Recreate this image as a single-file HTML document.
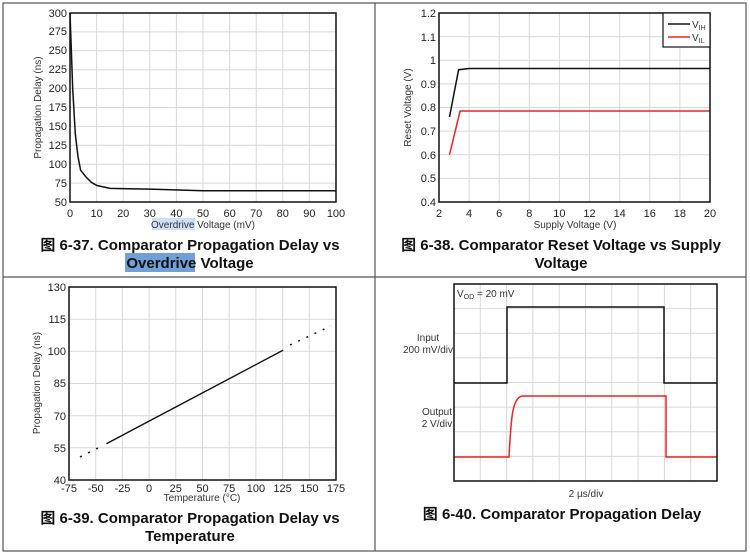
<!DOCTYPE html>
<html><head><meta charset="utf-8"><style>
body{margin:0;background:#fff;}
svg{display:block;font-family:"Liberation Sans","Noto Sans CJK SC",sans-serif;}
.g line{stroke:#d8d8d8;stroke-width:1;}
.t{font-size:11px;fill:#222;}
.a{font-size:10px;fill:#333;}
.c{font-size:15px;font-weight:bold;fill:#111;}
</style></head><body>
<svg width="750" height="555" viewBox="0 0 750 555">
<rect x="3" y="3" width="743" height="548" fill="#fff" stroke="#555" stroke-width="1.2"/>
<line x1="375" y1="3" x2="375" y2="551" stroke="#555" stroke-width="1.2"/>
<line x1="3" y1="277" x2="746" y2="277" stroke="#555" stroke-width="1.2"/>

<!-- Chart 1 -->
<g class="g">
<line x1="96.6" y1="13" x2="96.6" y2="202"/><line x1="123.2" y1="13" x2="123.2" y2="202"/><line x1="149.8" y1="13" x2="149.8" y2="202"/><line x1="176.4" y1="13" x2="176.4" y2="202"/><line x1="203" y1="13" x2="203" y2="202"/><line x1="229.6" y1="13" x2="229.6" y2="202"/><line x1="256.2" y1="13" x2="256.2" y2="202"/><line x1="282.8" y1="13" x2="282.8" y2="202"/><line x1="309.4" y1="13" x2="309.4" y2="202"/>
<line x1="70" y1="183.1" x2="336" y2="183.1"/><line x1="70" y1="164.2" x2="336" y2="164.2"/><line x1="70" y1="145.3" x2="336" y2="145.3"/><line x1="70" y1="126.4" x2="336" y2="126.4"/><line x1="70" y1="107.5" x2="336" y2="107.5"/><line x1="70" y1="88.6" x2="336" y2="88.6"/><line x1="70" y1="69.7" x2="336" y2="69.7"/><line x1="70" y1="50.8" x2="336" y2="50.8"/><line x1="70" y1="31.9" x2="336" y2="31.9"/>
</g>
<polyline fill="none" stroke="#111" stroke-width="1.5" points="70,13 72.7,88.6 75.3,134 78,156.6 80.6,170.2 86,177 91.3,182.3 96.6,185.4 109.9,188.4 149.8,189.1 203,190.7 336,190.7"/>
<rect x="70" y="13" width="266" height="189" fill="none" stroke="#111" stroke-width="1.5"/>
<g class="t" text-anchor="end">
<text x="67" y="206">50</text><text x="67" y="187">75</text><text x="67" y="168">100</text><text x="67" y="149">125</text><text x="67" y="130">150</text><text x="67" y="111">175</text><text x="67" y="92">200</text><text x="67" y="73">225</text><text x="67" y="54">250</text><text x="67" y="35">275</text><text x="67" y="17">300</text>
</g>
<g class="t" text-anchor="middle">
<text x="70" y="217">0</text><text x="96.6" y="217">10</text><text x="123.2" y="217">20</text><text x="149.8" y="217">30</text><text x="176.4" y="217">40</text><text x="203" y="217">50</text><text x="229.6" y="217">60</text><text x="256.2" y="217">70</text><text x="282.8" y="217">80</text><text x="309.4" y="217">90</text><text x="336" y="217">100</text>
</g>
<rect x="152" y="218" width="43" height="12" fill="#cfe0f5"/>
<text class="a" x="203" y="228" text-anchor="middle">Overdrive Voltage (mV)</text>
<text class="a" transform="translate(41,107.5) rotate(-90)" text-anchor="middle">Propagation Delay (ns)</text>
<rect x="125" y="253" width="70" height="19" fill="#6fa0d8"/>
<text class="c" x="190" y="250" text-anchor="middle">图 6-37. Comparator Propagation Delay vs</text>
<text class="c" x="190" y="268" text-anchor="middle">Overdrive Voltage</text>

<!-- Chart 2 -->
<g class="g">
<line x1="469.1" y1="13" x2="469.1" y2="202"/><line x1="499.2" y1="13" x2="499.2" y2="202"/><line x1="529.3" y1="13" x2="529.3" y2="202"/><line x1="559.4" y1="13" x2="559.4" y2="202"/><line x1="589.5" y1="13" x2="589.5" y2="202"/><line x1="619.7" y1="13" x2="619.7" y2="202"/><line x1="649.8" y1="13" x2="649.8" y2="202"/><line x1="679.9" y1="13" x2="679.9" y2="202"/>
<line x1="439" y1="178.4" x2="710" y2="178.4"/><line x1="439" y1="154.8" x2="710" y2="154.8"/><line x1="439" y1="131.1" x2="710" y2="131.1"/><line x1="439" y1="107.5" x2="710" y2="107.5"/><line x1="439" y1="83.9" x2="710" y2="83.9"/><line x1="439" y1="60.3" x2="710" y2="60.3"/><line x1="439" y1="36.6" x2="710" y2="36.6"/>
</g>
<polyline fill="none" stroke="#111" stroke-width="1.5" points="449.5,117 458.6,69.7 469.1,68.5 710,68.5"/>
<polyline fill="none" stroke="#ee2222" stroke-width="1.5" points="449.5,154.8 460.1,111 710,111"/>
<rect x="439" y="13" width="271" height="189" fill="none" stroke="#111" stroke-width="1.5"/>
<rect x="663" y="13" width="47" height="34" fill="#fff" stroke="#111" stroke-width="1.2"/>
<line x1="668" y1="24" x2="690" y2="24" stroke="#111" stroke-width="1.5"/>
<line x1="668" y1="37" x2="690" y2="37" stroke="#ee2222" stroke-width="1.5"/>
<text class="a" x="692" y="28">V<tspan font-size="7" dy="2">IH</tspan></text>
<text class="a" x="692" y="41">V<tspan font-size="7" dy="2">IL</tspan></text>
<g class="t" text-anchor="end">
<text x="436" y="206">0.4</text><text x="436" y="182">0.5</text><text x="436" y="159">0.6</text><text x="436" y="135">0.7</text><text x="436" y="111">0.8</text><text x="436" y="88">0.9</text><text x="436" y="64">1</text><text x="436" y="41">1.1</text><text x="436" y="17">1.2</text>
</g>
<g class="t" text-anchor="middle">
<text x="439" y="217">2</text><text x="469.1" y="217">4</text><text x="499.2" y="217">6</text><text x="529.3" y="217">8</text><text x="559.4" y="217">10</text><text x="589.5" y="217">12</text><text x="619.7" y="217">14</text><text x="649.8" y="217">16</text><text x="679.9" y="217">18</text><text x="710" y="217">20</text>
</g>
<text class="a" x="575" y="228" text-anchor="middle">Supply Voltage (V)</text>
<text class="a" transform="translate(411,107.5) rotate(-90)" text-anchor="middle">Reset Voltage (V)</text>
<text class="c" x="561" y="250" text-anchor="middle">图 6-38. Comparator Reset Voltage vs Supply</text>
<text class="c" x="561" y="268" text-anchor="middle">Voltage</text>

<!-- Chart 3 -->
<g class="g">
<line x1="95.7" y1="287" x2="95.7" y2="480"/><line x1="122.4" y1="287" x2="122.4" y2="480"/><line x1="149.1" y1="287" x2="149.1" y2="480"/><line x1="175.8" y1="287" x2="175.8" y2="480"/><line x1="202.5" y1="287" x2="202.5" y2="480"/><line x1="229.2" y1="287" x2="229.2" y2="480"/><line x1="255.9" y1="287" x2="255.9" y2="480"/><line x1="282.6" y1="287" x2="282.6" y2="480"/><line x1="309.3" y1="287" x2="309.3" y2="480"/>
<line x1="69" y1="447.8" x2="336" y2="447.8"/><line x1="69" y1="415.7" x2="336" y2="415.7"/><line x1="69" y1="383.5" x2="336" y2="383.5"/><line x1="69" y1="351.3" x2="336" y2="351.3"/><line x1="69" y1="319.2" x2="336" y2="319.2"/>
</g>
<line x1="106.4" y1="443.7" x2="283" y2="350.3" stroke="#111" stroke-width="1.4"/>
<line x1="80" y1="457" x2="104" y2="445" stroke="#111" stroke-width="1.5" stroke-dasharray="2,7"/>
<line x1="290" y1="345" x2="331" y2="326" stroke="#111" stroke-width="1.5" stroke-dasharray="2,7"/>
<rect x="69" y="287" width="267" height="193" fill="none" stroke="#111" stroke-width="1.5"/>
<g class="t" text-anchor="end">
<text x="66" y="484">40</text><text x="66" y="452">55</text><text x="66" y="420">70</text><text x="66" y="387">85</text><text x="66" y="355">100</text><text x="66" y="323">115</text><text x="66" y="291">130</text>
</g>
<g class="t" text-anchor="middle">
<text x="69" y="492">-75</text><text x="95.7" y="492">-50</text><text x="122.4" y="492">-25</text><text x="149.1" y="492">0</text><text x="175.8" y="492">25</text><text x="202.5" y="492">50</text><text x="229.2" y="492">75</text><text x="255.9" y="492">100</text><text x="282.6" y="492">125</text><text x="309.3" y="492">150</text><text x="336" y="492">175</text>
</g>
<text class="a" x="202" y="501" text-anchor="middle">Temperature (°C)</text>
<text class="a" transform="translate(40,383) rotate(-90)" text-anchor="middle">Propagation Delay (ns)</text>
<text class="c" x="190" y="523" text-anchor="middle">图 6-39. Comparator Propagation Delay vs</text>
<text class="c" x="190" y="541" text-anchor="middle">Temperature</text>

<!-- Chart 4 -->
<g class="g">
<line x1="480.3" y1="284" x2="480.3" y2="481"/><line x1="506.6" y1="284" x2="506.6" y2="481"/><line x1="532.9" y1="284" x2="532.9" y2="481"/><line x1="559.2" y1="284" x2="559.2" y2="481"/><line x1="585.5" y1="284" x2="585.5" y2="481"/><line x1="611.8" y1="284" x2="611.8" y2="481"/><line x1="638.1" y1="284" x2="638.1" y2="481"/><line x1="664.4" y1="284" x2="664.4" y2="481"/><line x1="690.7" y1="284" x2="690.7" y2="481"/>
<line x1="454" y1="308.6" x2="717" y2="308.6"/><line x1="454" y1="333.3" x2="717" y2="333.3"/><line x1="454" y1="357.9" x2="717" y2="357.9"/><line x1="454" y1="382.5" x2="717" y2="382.5"/><line x1="454" y1="407.1" x2="717" y2="407.1"/><line x1="454" y1="431.8" x2="717" y2="431.8"/><line x1="454" y1="456.4" x2="717" y2="456.4"/>
</g>
<polyline fill="none" stroke="#111" stroke-width="1.5" points="454,383 507,383 507,307 664,307 664,383 717,383"/>
<path fill="none" stroke="#ee2222" stroke-width="1.5" d="M454,457 L509,457 C511,420 512,398 522,396 L666,396 L666,457 L717,457"/>
<rect x="454" y="284" width="263" height="197" fill="none" stroke="#111" stroke-width="1.5"/>
<text class="a" x="457" y="297">V<tspan font-size="7" dy="2">OD</tspan><tspan dy="-2"> = 20 mV</tspan></text>
<g class="a" text-anchor="middle">
<text x="428" y="341">Input</text><text x="428" y="353">200 mV/div</text>
<text x="437" y="415">Output</text><text x="437" y="427">2 V/div</text>
<text x="586" y="497">2 µs/div</text>
</g>
<text class="c" x="562" y="519" text-anchor="middle">图 6-40. Comparator Propagation Delay</text>
</svg>
</body></html>
